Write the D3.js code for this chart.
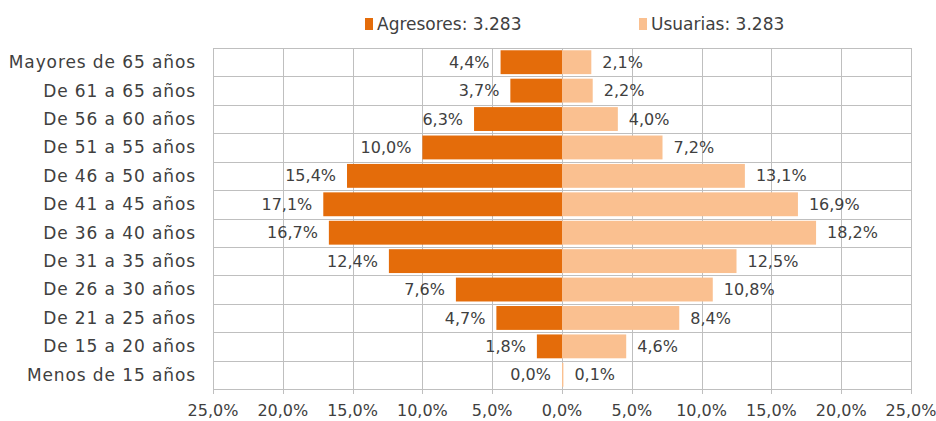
<!DOCTYPE html>
<html lang="es">
  <head>
    <meta charset="UTF-8" />
    <title>Edades</title>
    <style>
      body { margin: 0; background: #fff; }
      svg text { font-family: "DejaVu Sans", sans-serif; fill: #404040; }
    </style>
  </head>
  <body>
    <svg width="936" height="421" id="chart"></svg>
    <script src="https://d3js.org/d3.v7.min.js"></script>
    <script>
      var categorias = [
        "Mayores de 65 años", "De 61 a 65 años", "De 56 a 60 años", "De 51 a 55 años",
        "De 46 a 50 años", "De 41 a 45 años", "De 36 a 40 años", "De 31 a 35 años",
        "De 26 a 30 años", "De 21 a 25 años", "De 15 a 20 años", "Menos de 15 años"
      ];
      var agresores = [4.4, 3.7, 6.3, 10.0, 15.4, 17.1, 16.7, 12.4, 7.6, 4.7, 1.8, 0.0];
      var usuarias = [2.1, 2.2, 4.0, 7.2, 13.1, 16.9, 18.2, 12.5, 10.8, 8.4, 4.6, 0.1];
      var ticks = [-25, -20, -15, -10, -5, 0, 5, 10, 15, 20, 25];
      var series = [
        { nombre: "Agresores: 3.283", color: "#E46C0A" },
        { nombre: "Usuarias: 3.283", color: "#FAC090" }
      ];

      var fmt = function (v) { return d3.format(".1f")(Math.abs(v)).replace(".", ",") + "%"; };

      var svg = d3.select("#chart");
      var x = d3.scaleLinear().domain([-25, 25]).range([213, 911]);
      var y = d3.scaleBand().domain(categorias).range([48, 389]).paddingInner(0.16).paddingOuter(0.08);

      // cuadricula
      var grid = svg.append("g");
      grid.selectAll("line.v")
        .data(ticks)
        .join("line")
        .attr("class", "v")
        .attr("x1", function (d) { return Math.round(x(d)) + 0.5; })
        .attr("x2", function (d) { return Math.round(x(d)) + 0.5; })
        .attr("y1", 48)
        .attr("y2", 394)
        .attr("stroke", "#BFBFBF");
      var bordes = d3.range(categorias.length + 1).map(function (i) { return 48 + i * (389 - 48) / categorias.length; });
      grid.selectAll("line.h")
        .data(bordes)
        .join("line")
        .attr("class", "h")
        .attr("x1", 213)
        .attr("x2", 911)
        .attr("y1", function (d) { return Math.round(d) + 0.5; })
        .attr("y2", function (d) { return Math.round(d) + 0.5; })
        .attr("stroke", "#BFBFBF");

      // barras
      var filas = categorias.map(function (c, i) { return { cat: c, a: agresores[i], u: usuarias[i] }; });
      svg.append("g").selectAll("rect")
        .data(filas)
        .join("rect")
        .attr("x", function (d) { return x(-d.a); })
        .attr("width", function (d) { return x(0) - x(-d.a); })
        .attr("y", function (d) { return y(d.cat); })
        .attr("height", y.bandwidth())
        .attr("fill", series[0].color);
      svg.append("g").selectAll("rect")
        .data(filas)
        .join("rect")
        .attr("x", x(0))
        .attr("width", function (d) { return x(d.u) - x(0); })
        .attr("y", function (d) { return y(d.cat); })
        .attr("height", y.bandwidth())
        .attr("fill", series[1].color);

      // etiquetas de datos
      svg.append("g").selectAll("text")
        .data(filas)
        .join("text")
        .attr("x", function (d) { return x(-d.a) - 11; })
        .attr("y", function (d) { return y(d.cat) + y.bandwidth() / 2; })
        .attr("dy", "0.35em")
        .attr("text-anchor", "end")
        .style("font-size", "16px")
        .text(function (d) { return fmt(d.a); });
      svg.append("g").selectAll("text")
        .data(filas)
        .join("text")
        .attr("x", function (d) { return x(d.u) + 11; })
        .attr("y", function (d) { return y(d.cat) + y.bandwidth() / 2; })
        .attr("dy", "0.35em")
        .style("font-size", "16px")
        .text(function (d) { return fmt(d.u); });

      // eje y
      svg.append("g").selectAll("text")
        .data(categorias)
        .join("text")
        .attr("x", 196)
        .attr("y", function (d) { return y(d) + y.bandwidth() / 2; })
        .attr("dy", "0.35em")
        .attr("text-anchor", "end")
        .style("font-size", "17px")
        .style("letter-spacing", "0.9px")
        .text(function (d) { return d; });

      // eje x
      svg.append("g").selectAll("text")
        .data(ticks)
        .join("text")
        .attr("x", function (d) { return x(d); })
        .attr("y", 410)
        .attr("dy", "0.35em")
        .attr("text-anchor", "middle")
        .style("font-size", "16px")
        .text(fmt);

      // leyenda
      var ley = svg.append("g").selectAll("g")
        .data(series)
        .join("g")
        .attr("transform", function (d, i) { return "translate(" + [365, 639][i] + ",24)"; });
      ley.append("rect")
        .attr("x", 0)
        .attr("y", -6)
        .attr("width", 8)
        .attr("height", 12)
        .attr("fill", function (d) { return d.color; });
      ley.append("text")
        .attr("x", 12)
        .attr("dy", "0.35em")
        .style("font-size", "17px")
        .text(function (d) { return d.nombre; });
    </script>
  </body>
</html>
